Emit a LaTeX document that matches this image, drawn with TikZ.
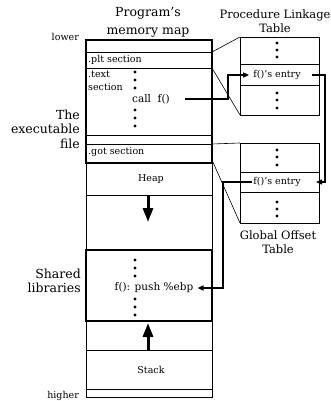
\documentclass[tikz,border=0pt]{standalone}
\usepackage{fontspec}
\setmainfont{DejaVu Serif}
\usetikzlibrary{arrows.meta}
\begin{document}
\begin{tikzpicture}[x=1pt,y=-1pt,
  thinline/.style={line width=0.6pt},
  exebox/.style={line width=2.4pt},
  libbox/.style={line width=1.2pt},
  conn/.style={line width=1.3pt,-{Triangle[length=6pt,width=5pt]}},
  bigarrow/.style={line width=3pt,-{Triangle[length=14pt,width=10pt]}},
  dot/.style={circle,fill,inner sep=0pt,minimum size=3.4pt},
  side/.style={font=\fontsize{12.5}{14.5}\selectfont,inner sep=1pt},
  ttl/.style={font=\fontsize{12.5}{18}\selectfont,inner sep=1pt},
  big/.style={font=\fontsize{11.5}{13.5}\selectfont,inner sep=1pt},
  small/.style={font=\fontsize{9.5}{12.5}\selectfont,inner sep=1pt},
  mid/.style={font=\fontsize{10.5}{12}\selectfont,inner sep=1pt}]
\useasboundingbox[fill=white] (0,0) rectangle (330,401);

% main column
\draw[thinline] (86,40) rectangle (212,397);
\foreach \y in {52,68,135,144,195,350,389} \draw[thinline] (86,\y) -- (212,\y);
\draw[libbox] (86,250) rectangle (212,321);
\draw[exebox] (86,40) rectangle (212,163);

% PLT table
\draw[thinline] (240,37) rectangle (319,115);
\draw[thinline] (240,64) -- (319,64) (240,85) -- (319,85);
% GOT table
\draw[thinline] (240,143) rectangle (319,223);
\draw[thinline] (240,172) -- (319,172) (240,192) -- (319,192);

% zoom lines
\draw[thinline] (212,52) -- (240,37);
\draw[thinline] (212,68) -- (240,115);
\draw[thinline] (212,144) -- (240,143);
\draw[thinline] (212,160) -- (240,223);

% labels
\node[ttl,align=center] (title) at (148,22) {Program's\\memory map};
\node[small,anchor=east] (lower) at (80,37) {lower};
\node[small,anchor=east] (higher) at (80,396) {higher};
\node[side,align=right,anchor=east] (exe) at (81,129) {The\\executable\\file};
\node[side,align=right,anchor=east] (shared) at (82,281) {Shared\\libraries};
\node[big,align=center] (plttitle) at (275,21) {Procedure Linkage\\Table};
\node[big,align=center] (gottitle) at (278,242) {Global Offset\\Table};

\node[small,anchor=west] (pltsec) at (87,60) {.plt section};
\node[small,anchor=north west,align=left] (textsec) at (87,70) {.text\\section};
\node[small,anchor=west] (gotsec) at (87,152) {.got section};
\node[mid] (callf) at (151,99) {call\ \ f()};
\node[small] (heap) at (151,179) {Heap};
\node[small] (stack) at (151,370) {Stack};
\node[mid] (push) at (154,288) {f(): push \%ebp};
\node[small] (pltentry) at (277,75) {f()'s entry};
\node[small] (gotentry) at (277,182) {f()'s entry};

% dots
\foreach \y in {72,80,88,110,118,126} \node[dot] at (135,\y) {};
\foreach \y in {260,268,276,299,307,315} \node[dot] at (135,\y) {};
\foreach \y in {43,50,57,93,100,108} \node[dot] at (277,\y) {};
\foreach \y in {150,157,165,202,209,216} \node[dot] at (277,\y) {};

% growth arrows
\coordinate (heapbot) at (148,195);
\coordinate (heaptip) at (148,222);
\draw[bigarrow] (heapbot) -- (heaptip);
\coordinate (stacktop) at (148,350);
\coordinate (stacktip) at (148,323);
\draw[bigarrow] (stacktop) -- (stacktip);

% connectors
\coordinate (c1) at (185,99);
\draw[conn] (c1) -- (228,99) |- ([xshift=-3pt]pltentry.west);
\coordinate (c2) at (312,75);
\coordinate (c3) at (316,182);
\draw[conn] (c2) -- (325,75) |- (c3);
\draw[conn] (gotentry.west) -- (223,182) |- ([xshift=3pt]push.east);
\end{tikzpicture}
\end{document}
